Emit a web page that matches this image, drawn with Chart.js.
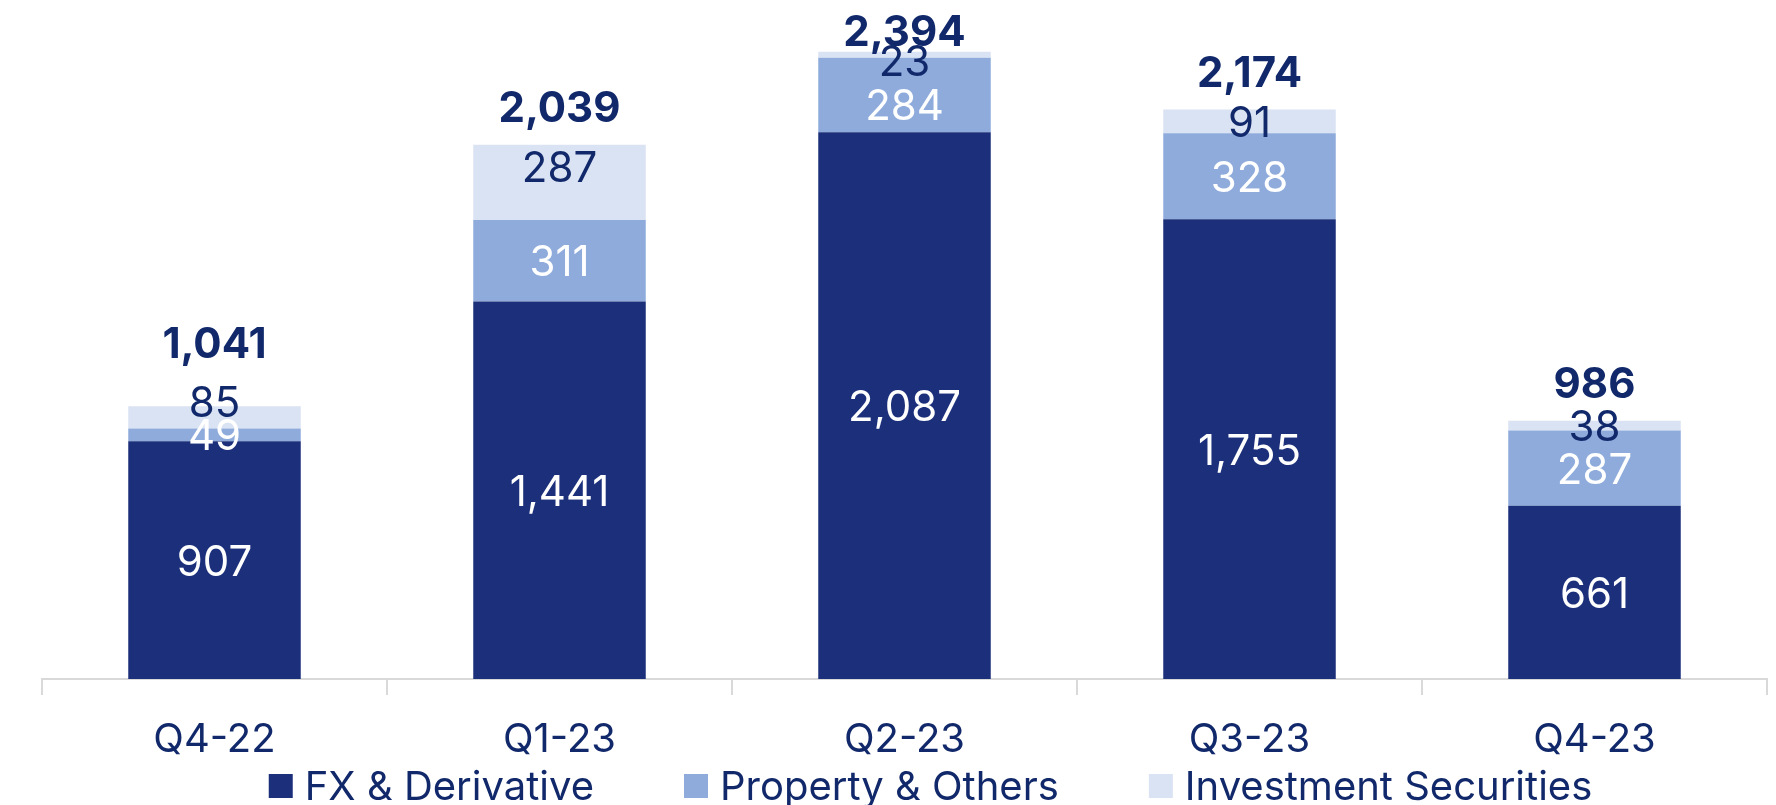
<!DOCTYPE html>
<html>
<head>
<meta charset="utf-8">
<script src="https://cdn.jsdelivr.net/npm/chart.js@4.4.0/dist/chart.umd.min.js"></script>
<style>
  html, body { margin: 0; padding: 0; background: #ffffff; overflow: hidden; }
  #wrap { position: relative; width: 1776px; height: 805px; }
</style>
</head>
<body>
<div id="wrap"><canvas id="gainsChart"></canvas></div>
<script>
const quarters = ['Q4-22', 'Q1-23', 'Q2-23', 'Q3-23', 'Q4-23'];
const seriesNames = ['FX & Derivative', 'Property & Others', 'Investment Securities'];
const fxDerivative = [907, 1441, 2087, 1755, 661];
const propertyOthers = [49, 311, 284, 328, 287];
const investmentSecurities = [85, 287, 23, 91, 38];
const totals = [1041, 2039, 2394, 2174, 986];

const palette = {
  fx: '#1b2f7a',
  property: '#8eabdc',
  investment: '#dae3f3',
  text: '#11296b',
  axis: '#d9d9d9',
};
const FONT = 'Inter, "Open Sans", sans-serif';
const TICK_SIZE = 40;
const LABEL_SIZE = 42;
const LEGEND_SIZE = 40;

// label nudges (px) where the source moved overlapping labels
const labelNudges = [
  [0, 0, 0, 0, 0],
  [0, 0, 9, 0, 0],
  [-16, -16, 6, 0, 0],
];
const totalNudges = [-26, 0, 17, 0, 0];
const TOTAL_GAP = 38;

const numberFormatter = new Intl.NumberFormat('en-US');

const segmentLabels = {
  id: 'segmentLabels',
  afterDatasetsDraw(chart) {
    const { ctx } = chart;
    ctx.save();
    ctx.textAlign = 'center';
    ctx.textBaseline = 'alphabetic';
    ctx.font = `400 ${LABEL_SIZE}px ${FONT}`;
    const half = ctx.measureText('0').actualBoundingBoxAscent / 2;
    const colors = ['#ffffff', '#ffffff', palette.text];
    chart.data.datasets.forEach((dataset, di) => {
      const meta = chart.getDatasetMeta(di);
      meta.data.forEach((bar, i) => {
        const mid = (bar.y + bar.base) / 2 + labelNudges[di][i];
        ctx.fillStyle = colors[di];
        ctx.fillText(numberFormatter.format(dataset.data[i]), bar.x, mid + half);
      });
    });
    ctx.font = `700 ${LABEL_SIZE}px ${FONT}`;
    ctx.fillStyle = palette.text;
    const yScale = chart.scales.y;
    const topMeta = chart.getDatasetMeta(0);
    totals.forEach((total, i) => {
      const x = topMeta.data[i].x;
      const y = yScale.getPixelForValue(total) - TOTAL_GAP + totalNudges[i];
      ctx.fillText(numberFormatter.format(total), x, y + half);
    });
    ctx.restore();
  },
};

const bottomLegend = {
  id: 'bottomLegend',
  afterDraw(chart) {
    const { ctx, chartArea } = chart;
    const box = 24;
    const boxGap = 12;
    const itemGap = 90;
    ctx.save();
    ctx.font = `400 ${LEGEND_SIZE}px ${FONT}`;
    ctx.textBaseline = 'alphabetic';
    ctx.textAlign = 'left';
    const half = ctx.measureText('F').actualBoundingBoxAscent / 2;
    const items = chart.data.datasets.map((ds) => ({
      text: ds.label,
      color: ds.backgroundColor,
      width: box + boxGap + ctx.measureText(ds.label).width,
    }));
    const totalWidth = items.reduce((sum, it) => sum + it.width, 0) + itemGap * (items.length - 1);
    const centerX = (chartArea.left + chartArea.right) / 2 + 26;
    const centerY = chart.height - 20;
    let x = centerX - totalWidth / 2;
    items.forEach((it) => {
      ctx.fillStyle = it.color;
      ctx.fillRect(x, centerY - box / 2 + 1, box, box);
      ctx.fillStyle = palette.text;
      ctx.fillText(it.text, x + box + boxGap, centerY + half);
      x += it.width + itemGap;
    });
    ctx.restore();
  },
};

const ctx = document.getElementById('gainsChart').getContext('2d');
new Chart(ctx, {
  type: 'bar',
  data: {
    labels: quarters,
    datasets: [
      { label: seriesNames[0], data: fxDerivative, backgroundColor: palette.fx },
      { label: seriesNames[1], data: propertyOthers, backgroundColor: palette.property },
      { label: seriesNames[2], data: investmentSecurities, backgroundColor: palette.investment },
    ],
  },
  options: {
    responsive: true,
    maintainAspectRatio: false,
    animation: false,
    datasets: {
      bar: {
        categoryPercentage: 1,
        barPercentage: 0.5,
        borderWidth: 0,
      },
    },
    layout: {
      padding: { top: 24, left: 42, right: 9, bottom: 20 },
    },
    plugins: {
      legend: { display: false },
      tooltip: { enabled: false },
    },
    scales: {
      x: {
        stacked: true,
        border: { display: true, color: palette.axis, width: 2 },
        grid: {
          display: true,
          offset: true,
          drawOnChartArea: false,
          drawTicks: true,
          tickLength: 16,
          color: palette.axis,
          lineWidth: 2,
        },
        ticks: {
          color: palette.text,
          padding: 21,
          font: { family: FONT, size: TICK_SIZE },
        },
      },
      y: {
        stacked: true,
        display: false,
        min: 0,
        max: 2500,
      },
    },
  },
  plugins: [segmentLabels, bottomLegend],
});
</script>
</body>
</html>
